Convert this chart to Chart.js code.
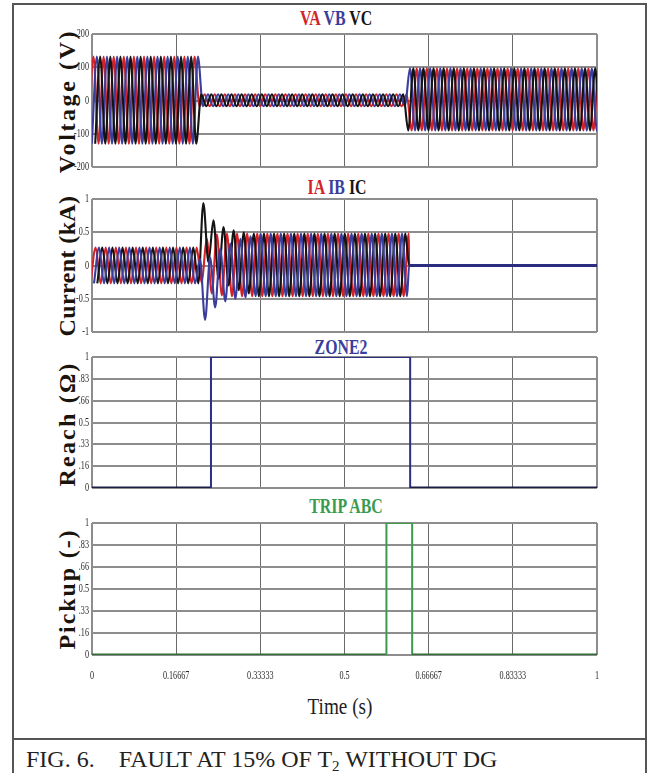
<!DOCTYPE html>
<html>
<head>
<meta charset="utf-8">
<script src="https://cdn.jsdelivr.net/npm/chart.js@4.4.1/dist/chart.umd.min.js"></script>
<style>
  html, body { margin: 0; padding: 0; background: #fff; }
  #fig { position: relative; width: 648px; height: 773px; overflow: hidden; background: #fff;
         font-family: "Liberation Serif", "Times New Roman", serif; }
  .ln { position: absolute; background: #555; }
  .ptitle { position: absolute; font-weight: bold; font-size: 22px; line-height: 1; white-space: nowrap;
            transform: translateX(-50%) scaleX(0.72); transform-origin: center; }
  .ytitle { position: absolute; font-weight: bold; font-size: 24px; line-height: 1; white-space: nowrap;
            color: #1b140c;
            transform: translate(-50%, -50%) rotate(-90deg); transform-origin: center; }
  canvas.panel { position: absolute; left: 0; }
  #xtitle { position: absolute; font-size: 24px; line-height: 1; white-space: nowrap; color: #222;
            transform: translateX(-50%) scaleX(0.8); transform-origin: center; }
  #caption { position: absolute; left: 26px; top: 747px; font-size: 24px; line-height: 1; white-space: nowrap; color: #222; }
  #caption sub { font-size: 15px; line-height: 0; vertical-align: -4px; }
</style>
</head>
<body>
<div id="fig">
  <div class="ln" style="left:12px;top:3px;width:2px;height:770px"></div>
  <div class="ln" style="left:645px;top:3px;width:2px;height:770px"></div>
  <div class="ln" style="left:12px;top:3px;width:635px;height:2px"></div>
  <div class="ln" style="left:12px;top:738px;width:635px;height:2px"></div>

  <div class="ptitle" style="left:336px;top:6.6px"><span style="color:#d2232a">VA</span> <span style="color:#3a3d9c">VB</span> <span style="color:#151515">VC</span></div>
  <div class="ptitle" style="left:337px;top:175.6px"><span style="color:#d2232a">IA</span> <span style="color:#3a3d9c">IB</span> <span style="color:#151515">IC</span></div>
  <div class="ptitle" style="left:341px;top:335.6px;color:#3a3d9c">ZONE2</div>
  <div class="ptitle" style="left:346px;top:494.6px;color:#3a9a50">TRIP ABC</div>

  <div class="ytitle" style="left:67px;top:101px;letter-spacing:2.6px">Voltage (V)</div>
  <div class="ytitle" style="left:67px;top:266px;letter-spacing:0.4px">Current (kA)</div>
  <div class="ytitle" style="left:67px;top:424px;letter-spacing:2.2px">Reach (Ω)</div>
  <div class="ytitle" style="left:67px;top:589px;letter-spacing:1.9px">Pickup (-)</div>

  <canvas id="cV" class="panel" width="648" height="145" style="top:28px"></canvas>
  <canvas id="cI" class="panel" width="648" height="145" style="top:193px"></canvas>
  <canvas id="cR" class="panel" width="648" height="143" style="top:351px"></canvas>
  <canvas id="cP" class="panel" width="648" height="173" style="top:517px"></canvas>

  <div id="xtitle" style="left:340px;top:694px">Time (s)</div>
  <div id="caption">FIG. 6.&nbsp;&nbsp;&nbsp; FAULT AT 15% OF T<sub>2</sub> WITHOUT DG</div>
</div>

<script>
// ---------------- DATA ----------------
const FREQ_HZ = 50;                       // one cycle every ~10 px = 0.02 s
const HALF_CYCLE = 0.5 / FREQ_HZ;         // spacing between successive crests/troughs

// Time axis
const xTickValues = [0, 0.16667, 0.33333, 0.5, 0.66667, 0.83333, 1];
const xTickLabels = ['0', '0.16667', '0.33333', '0.5', '0.66667', '0.83333', '1'];

// Voltage panel
const vTickValues = [-200, -100, 0, 100, 200];
const vTickLabels = ['-200', '-100', '0', '100', '200'];
const vSegmentEnd = [0.213, 0.624, 1.02];   // pre-fault | during fault | after trip
const vCrest  = [132, 19, 97];              // positive peak in each segment (V)
const vTrough = [-130, -17, -90];           // negative peak in each segment (V)
const vFirstCrest = [0.0030, 0.0097, 0.0163]; // first positive crest of VA, VB, VC

// Current panel
const iTickValues = [-1, -0.5, 0, 0.5, 1];
const iTickLabels = ['-1', '-0.5', '0', '0.5', '1'];
const iFaultStart = 0.212;
const iBreakerOpen = 0.628;
const iPreCrest = 0.27, iPreTrough = -0.27;      // kA before the fault
const iFaultCrest = 0.48, iFaultTrough = -0.46;  // kA steady fault current
const iFirstCrest = [0.0072, 0.0139, 0.0205];    // first positive crest of IA, IB, IC
// successive extremes right after fault inception (offset-decay transient)
const iaTransient = [-0.26, 0.40, -0.42, 0.47, -0.45];
const ibTransient = [0.10, -0.82, 0.12, -0.63, 0.25, -0.54, 0.33, -0.50, 0.40, -0.48, 0.44];
const icTransient = [0.94, 0.05, 0.68, -0.20, 0.58, -0.30, 0.53, -0.37, 0.50, -0.42];

// Zone-2 reach and trip signals (step times in s, levels)
const reachTimes  = [0, 0.2356, 0.2356, 0.630, 0.630, 1];
const reachLevels = [0, 0, 1, 1, 0, 0];
const tripTimes   = [0, 0.583, 0.583, 0.634, 0.634, 1];
const tripLevels  = [0, 0, 1, 1, 0, 0];
const unitTickValues = [0, 0.16667, 0.33333, 0.5, 0.66667, 0.83333, 1];
const unitTickLabels = ['0', '.16', '.33', '0.5', '.66', '.83', '1'];

// ---------------- SERIES ASSEMBLY ----------------
function voltageExtremes(firstCrest) {
  const pts = [];
  for (let k = -1; ; k++) {
    const t = firstCrest + k * HALF_CYCLE;
    if (t > vSegmentEnd[2]) break;
    const seg = t < vSegmentEnd[0] ? 0 : (t < vSegmentEnd[1] ? 1 : 2);
    const positive = ((k % 2) + 2) % 2 === 0;
    pts.push({ x: t, y: positive ? vCrest[seg] : vTrough[seg] });
  }
  return pts;
}

function currentExtremes(firstCrest, transient) {
  const pts = [];
  let j = 0;
  for (let k = -1; ; k++) {
    const t = firstCrest + k * HALF_CYCLE;
    if (t >= iBreakerOpen) break;
    const positive = ((k % 2) + 2) % 2 === 0;
    let y;
    if (t < iFaultStart) y = positive ? iPreCrest : iPreTrough;
    else if (j < transient.length) y = transient[j++];
    else y = positive ? iFaultCrest : iFaultTrough;
    pts.push({ x: t, y });
  }
  pts.push({ x: iBreakerOpen, y: 0 });
  pts.push({ x: 1, y: 0 });
  return pts;
}

function steps(times, levels) {
  return times.map((t, i) => ({ x: t, y: levels[i] }));
}

// ---------------- STYLE ----------------
const RED = '#d2232a', BLUE = '#3a3d9c', BLACK = '#141414';
const GRID_H = '#8d8d8d', GRID_V = '#6a6a6a';
const WAVE_W = 2.1;

const tickPlugin = {
  id: 'condensedTicks',
  afterDraw(chart, args, opts) {
    const { ctx, chartArea } = chart;
    ctx.save();
    ctx.fillStyle = '#2a2a2a';
    ctx.font = '12px "Liberation Serif", serif';
    const sx = 0.68;
    if (opts.yValues) {
      const ys = chart.scales.y;
      ctx.textAlign = 'right';
      ctx.textBaseline = 'middle';
      opts.yValues.forEach((v, i) => {
        ctx.save();
        ctx.translate(chartArea.left - 3, ys.getPixelForValue(v));
        ctx.scale(sx, 1);
        ctx.fillText(opts.yLabels[i], 0, 0);
        ctx.restore();
      });
    }
    if (opts.xValues) {
      const xs = chart.scales.x;
      ctx.textAlign = 'center';
      ctx.textBaseline = 'middle';
      opts.xValues.forEach((v, i) => {
        ctx.save();
        ctx.translate(xs.getPixelForValue(v), chartArea.bottom + 21);
        ctx.scale(sx, 1);
        ctx.fillText(opts.xLabels[i], 0, 0);
        ctx.restore();
      });
    }
    ctx.restore();
  }
};

function makeChart(id, datasets, yMin, yMax, yValues, yLabels, showX, padBottom) {
  const last = xTickValues.length - 1;
  return new Chart(document.getElementById(id), {
    type: 'line',
    data: { datasets },
    plugins: [tickPlugin],
    options: {
      responsive: false,
      animation: false,
      events: [],
      layout: { padding: { left: 0, right: 51, top: 6, bottom: padBottom } },
      elements: { point: { radius: 0 } },
      plugins: {
        legend: { display: false },
        tooltip: { enabled: false },
        condensedTicks: { yValues, yLabels, xValues: showX ? xTickValues : null, xLabels: xTickLabels }
      },
      scales: {
        x: {
          type: 'linear', min: 0, max: 1,
          afterBuildTicks: (s) => { s.ticks = xTickValues.map(v => ({ value: v })); },
          afterFit: (s) => { s.height = 0; },
          ticks: { display: false },
          border: { display: false },
          grid: {
            drawTicks: false,
            color: (c) => (c.index === 0 || c.index === last) ? GRID_H : GRID_V,
            lineWidth: (c) => (c.index === 0 || c.index === last) ? 2 : 1
          }
        },
        y: {
          type: 'linear', min: yMin, max: yMax,
          afterBuildTicks: (s) => { s.ticks = yValues.map(v => ({ value: v })); },
          afterFit: (s) => { s.width = 92; },
          ticks: { display: false },
          border: { display: false },
          grid: { drawTicks: false, color: GRID_H, lineWidth: 2 }
        }
      }
    }
  });
}

function waveDataset(data, color, order, thickZero) {
  const ds = {
    data, borderColor: color, borderWidth: WAVE_W, order,
    cubicInterpolationMode: 'monotone', pointRadius: 0, fill: false
  };
  if (thickZero) {
    ds.segment = {
      borderWidth: (c) => (c.p0.parsed.y === 0 && c.p1.parsed.y === 0) ? 3.2 : WAVE_W,
      borderColor: (c) => (c.p0.parsed.y === 0 && c.p1.parsed.y === 0) ? '#2a2d80' : color
    };
  }
  return ds;
}

function stepDataset(data, color, zeroColor) {
  return {
    data, borderColor: color, borderWidth: 2, tension: 0, pointRadius: 0, fill: false,
    segment: {
      borderWidth: (c) => (c.p0.parsed.y === 0 && c.p1.parsed.y === 0) ? 3.2 : 2,
      borderColor: (c) => (c.p0.parsed.y === 0 && c.p1.parsed.y === 0) ? zeroColor : color
    }
  };
}

makeChart('cV', [
  waveDataset(voltageExtremes(vFirstCrest[0]), RED, 2),
  waveDataset(voltageExtremes(vFirstCrest[1]), BLUE, 1),
  waveDataset(voltageExtremes(vFirstCrest[2]), BLACK, 0)
], -200, 200, vTickValues, vTickLabels, false, 6);

makeChart('cI', [
  waveDataset(currentExtremes(iFirstCrest[0], iaTransient), RED, 2),
  waveDataset(currentExtremes(iFirstCrest[2], icTransient), BLACK, 1),
  waveDataset(currentExtremes(iFirstCrest[1], ibTransient), BLUE, 0, true)
], -1, 1, iTickValues, iTickLabels, false, 6);

makeChart('cR', [
  stepDataset(steps(reachTimes, reachLevels), '#2c2f88', '#1c1d45')
], 0, 1, unitTickValues, unitTickLabels, false, 6);

makeChart('cP', [
  stepDataset(steps(tripTimes, tripLevels), '#3d9a4a', '#2f6d35')
], 0, 1, unitTickValues, unitTickLabels, true, 35);
</script>
</body>
</html>
